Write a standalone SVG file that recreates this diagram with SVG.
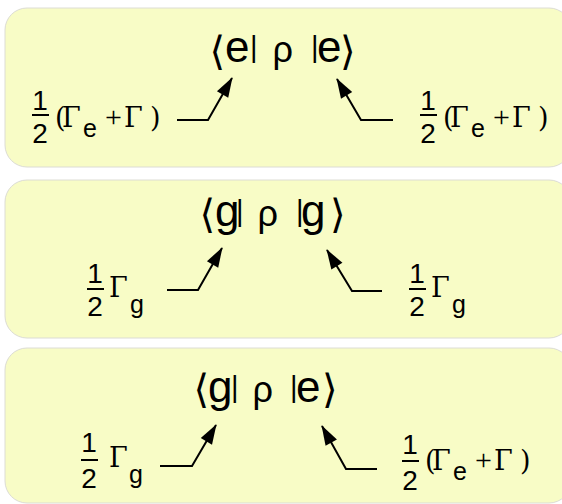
<svg xmlns="http://www.w3.org/2000/svg" width="562" height="504" viewBox="0 0 562 504">
<style>
.box{fill:#f8fcc6;stroke:#dcdcd4;stroke-width:1}
text{fill:#000}
.big{font-family:"Liberation Sans",Arial,sans-serif;font-size:44px}
.bar{font-size:29px}
.rho{font-size:36px}
.br{font-family:"DejaVu Sans",sans-serif;font-size:40px}
.num{font-family:"Liberation Sans",Arial,sans-serif;font-size:28px;text-anchor:middle}
.ser{font-family:"DejaVu Serif","Liberation Serif",serif;font-size:27px}
.pl{font-family:"Liberation Serif","Times New Roman",serif;font-size:30px}
.sub{font-family:"Liberation Sans",Arial,sans-serif;font-size:25px}
.fbar{stroke:#000;stroke-width:2}
.conn{fill:none;stroke:#000;stroke-width:2;marker-end:url(#ah)}
</style>
<defs>
<marker id="ah" markerUnits="userSpaceOnUse" markerWidth="22" markerHeight="16" viewBox="0 -8 20 16" refX="19" refY="0" orient="auto">
<path d="M0,-6.5 L20,0 L0,6.5 z" fill="#000"/>
</marker>
</defs>
<rect width="562" height="504" fill="#fff"/>

<g id="node-ee">
<rect class="box" x="5" y="8" width="566" height="159" rx="22"/>
<text class="big"><tspan class="br" x="209.5" y="65">⟨</tspan><tspan x="225" y="62">e</tspan><tspan class="bar" x="250" y="57">|</tspan><tspan class="rho" x="272.5" y="62">ρ</tspan><tspan class="bar" x="311" y="57">|</tspan><tspan x="317" y="62">e</tspan><tspan class="br" x="340" y="65">⟩</tspan></text>
<text class="num" x="40" y="110">1</text><line class="fbar" x1="32" y1="115" x2="49" y2="115"/><text class="num" x="40" y="143">2</text>
<text class="ser" y="127"><tspan x="55">(</tspan><tspan x="62">Γ</tspan><tspan class="sub" x="83" y="137">e</tspan><tspan class="pl" x="105" y="127">+</tspan><tspan x="124">Γ</tspan><tspan x="150">)</tspan></text>
<text class="num" x="428" y="110">1</text><line class="fbar" x1="420" y1="115" x2="437" y2="115"/><text class="num" x="428" y="143">2</text>
<text class="ser" y="127"><tspan x="443">(</tspan><tspan x="450">Γ</tspan><tspan class="sub" x="471" y="137">e</tspan><tspan class="pl" x="493" y="127">+</tspan><tspan x="512">Γ</tspan><tspan x="538">)</tspan></text>
</g>

<g id="node-gg">
<rect class="box" x="5" y="180" width="566" height="158" rx="22"/>
<text class="big"><tspan class="br" x="199.5" y="228">⟨</tspan><tspan x="215" y="226">g</tspan><tspan class="bar" x="236" y="221">|</tspan><tspan class="rho" x="257.5" y="226">ρ</tspan><tspan class="bar" x="296" y="221">|</tspan><tspan x="301" y="226">g</tspan><tspan class="br" x="330" y="228">⟩</tspan></text>
<text class="num" x="95" y="283">1</text><line class="fbar" x1="87" y1="289" x2="104" y2="289"/><text class="num" x="95" y="316">2</text>
<text class="ser" x="109" y="297">Γ</text><text class="sub" x="130" y="313">g</text>
<text class="num" x="417" y="283">1</text><line class="fbar" x1="409" y1="289" x2="426" y2="289"/><text class="num" x="417" y="316">2</text>
<text class="ser" x="431" y="297">Γ</text><text class="sub" x="452" y="313">g</text>
</g>

<g id="node-ge">
<rect class="box" x="5" y="348" width="566" height="155" rx="22"/>
<text class="big"><tspan class="br" x="193.5" y="403">⟨</tspan><tspan x="208" y="402">g</tspan><tspan class="bar" x="231" y="397">|</tspan><tspan class="rho" x="252.5" y="402">ρ</tspan><tspan class="bar" x="290" y="397">|</tspan><tspan x="296" y="402">e</tspan><tspan class="br" x="322" y="403">⟩</tspan></text>
<text class="num" x="89" y="452">1</text><line class="fbar" x1="81" y1="460" x2="98" y2="460"/><text class="num" x="89" y="488">2</text>
<text class="ser" x="109" y="467">Γ</text><text class="sub" x="129" y="483">g</text>
<text class="num" x="410" y="454">1</text><line class="fbar" x1="402" y1="461" x2="419" y2="461"/><text class="num" x="410" y="490">2</text>
<text class="ser" y="470"><tspan x="425">(</tspan><tspan x="432">Γ</tspan><tspan class="sub" x="453" y="480">e</tspan><tspan class="pl" x="475" y="470">+</tspan><tspan x="494">Γ</tspan><tspan x="520">)</tspan></text>
</g>

<g id="connectors">
<polyline class="conn" points="177,120 208,120 232,78"/>
<polyline class="conn" points="393,120 361,120 337,79"/>
<polyline class="conn" points="167,290 198,290 222,248"/>
<polyline class="conn" points="382,291 352,291 327,250"/>
<polyline class="conn" points="160,466 192,466 216,425"/>
<polyline class="conn" points="377,469 346,469 322,426"/>
</g>
</svg>
